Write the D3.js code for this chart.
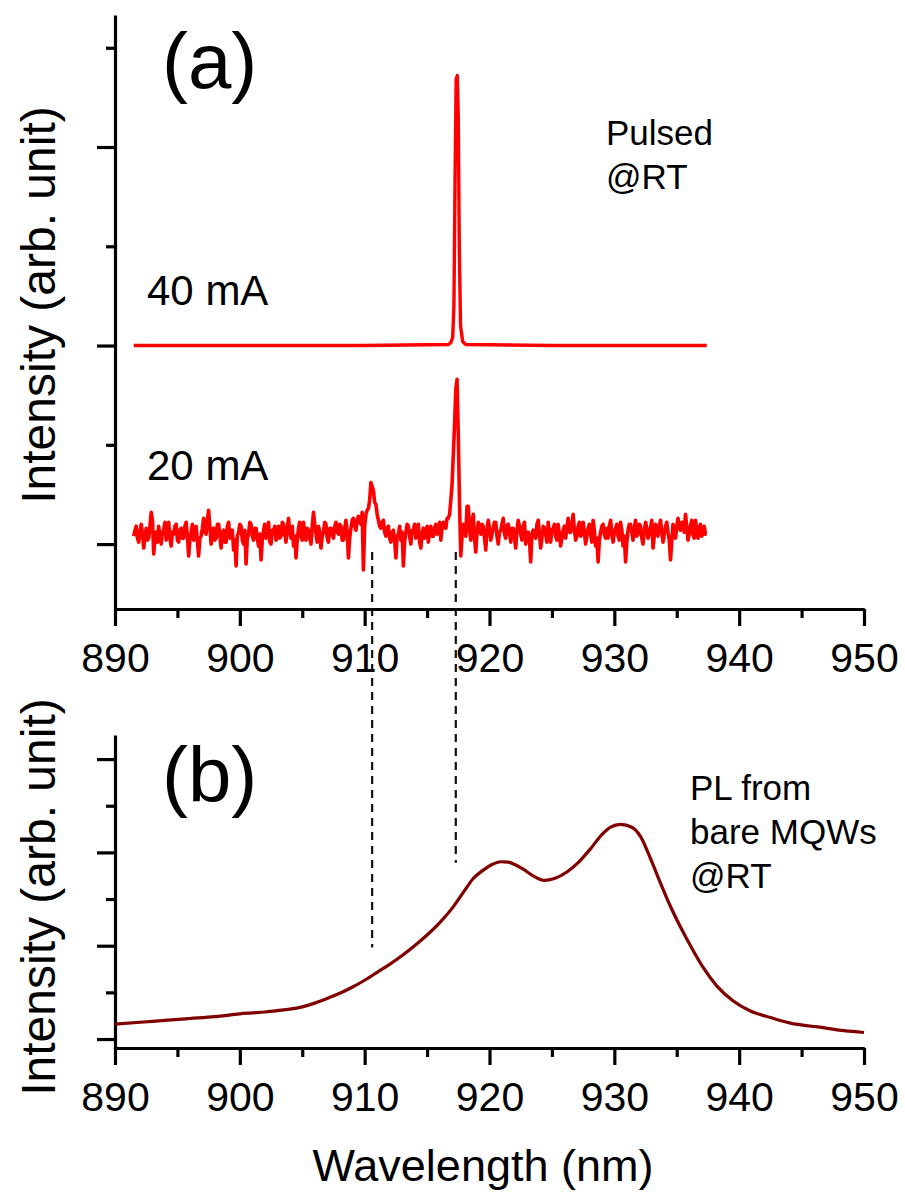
<!DOCTYPE html>
<html>
<head>
<meta charset="utf-8">
<script src="https://cdn.jsdelivr.net/npm/d3@7"></script>
<style>
  body { margin: 0; background: #fff; }
  text { font-family: "Liberation Sans", Arial, sans-serif; fill: #000; }
</style>
</head>
<body>
<svg></svg>
<script>
// panel (a): lasing spectra, intensity in arb. units (baseline of 20 mA = 0, 40 mA offset by 100)
// 20 mA trace sampled every 0.1 nm from 891.5 nm
const wlStart20 = 891.5;
const wlStep20 = 0.1;
const current20mA = [
  4, 7, 9, 3, 1, 6, 10, 5, -2, 4, 8, 2, 3, 9, 16, 12, -5, 3, 6, 1,
  9, 4, 0, 6, 7, 11, 2, 5, 11, 3, -1, 6, 5, 9, 10, 2, 1, 7, 8, 3,
  3, 9, 11, 4, -6, 2, 6, 10, 2, 5, 9, 1, -6, 3, 4, 8, 13, 6, 5, 12,
  17, 9, 0, 5, 8, 2, 3, 10, 10, 4, -2, 6, 7, 1, 1, 9, 11, 3, 4, 7,
  -3, 2, -11, 4, 6, 10, 9, 2, 0, 7, -10, 3, 5, 11, 10, 4, 2, 8, 8, 3,
  -1, 5, -8, 2, 7, 10, 3, 6, 11, 1, 0, 7, 6, 9, 2, 4, 9, 3, 4, 11,
  10, 5, 1, 8, 13, 6, 3, 9, -1, 4, -7, 2, 8, 11, 4, 2, 11, 6, 2, 8,
  7, 3, 0, 9, 16, 10, 5, 1, 9, 6, -2, 4, 6, 11, 10, 3, 1, 8, 8, 5,
  3, 9, 11, 6, 5, 10, 9, 2, 2, 8, 12, 6, -7, 3, 8, 12, 13, 9, 7, 12,
  14, 11, 10, 16, -13, 9, 15, 17, 18, 22, 31, 29, 27, 21, 20, 15, 12, 9, 8, 11,
  12, 6, 4, 8, 9, 3, 1, 6, 7, 2, -7, 4, 5, 9, 2, 6, -11, 1, 6, 10,
  9, 4, 0, 7, 7, 10, 3, 8, 10, 1, -2, 5, 8, 3, 5, 9, 1, 6, 9, 4,
  4, 8, 10, 5, 6, 11, 2, 8, 11, 9, 8, 13, 13, 15, 22, 30, 45, 60, 78, 83,
  55, 20, -6, 4, 10, 8, 4, 19, 19, 7, 2, 12, 15, 3, -4, 6, 11, 8, 5, 10,
  9, 3, -3, 7, 12, 8, 2, 5, 8, 11, 11, 4, 0, 6, 7, 10, 13, 5, 3, 9,
  10, 6, 1, 8, 8, 3, -2, 7, 12, 9, 5, 2, 9, 11, 0, 4, 6, 2, -9, 5,
  7, 4, 3, 10, 12, 5, -2, 3, 9, 8, 5, 1, 11, 6, 1, 7, 8, 10, 4, 2,
  10, 5, -1, 3, 7, 9, 3, 8, 13, 6, 6, 10, 15, 7, 2, 4, 9, 11, 4, 6,
  11, 6, 0, 4, 8, 10, 5, 1, 12, 7, -1, 3, -9, 2, 6, 9, 10, 5, 3, 8,
  3, 9, 12, 5, 1, 6, 8, 10, 4, 2, 11, 7, -1, 4, -9, 1, 7, 10, 10, 6,
  2, 8, 12, 4, 5, 10, 9, 3, 0, 6, 11, 8, 3, 5, 8, 12, -2, 4, 10, 7,
  4, 9, 12, 6, 1, 5, 9, 11, 6, 2, -8, 1, 10, 6, 3, 9, 13, 8, 7, 11,
  11, 6, 15, 9, 2, 5, 9, 12, 5, 3, 12, 8, 3, 7, 10, 4, 6, 9, 5, 5
];
const wl40mA = [891.5, 900, 910, 916.7, 916.9, 917.05, 917.15, 917.25, 917.33, 917.42, 917.5, 917.58, 917.68, 917.85, 918.1, 925, 937.4];
const current40mA = [100, 100, 100, 100.5, 101.5, 104, 120, 190, 234, 236, 215, 150, 110, 102, 100.5, 100, 100];

// panel (b): PL from bare MQWs
const plWavelength = [890, 892, 894, 896, 898, 900, 901, 902, 903, 904, 905, 906, 907, 908, 909, 910, 911, 912, 913, 914, 915, 916, 917, 918, 918.7, 919.5, 920.2, 920.9, 921.5, 922.1, 922.7, 923.6, 924.4, 925.2, 926.2, 927.1, 928.1, 929.0, 929.7, 930.5, 931.4, 932.1, 933.0, 933.7, 934.5, 935.3, 936.1, 937.1, 938.2, 939.5, 940.9, 942.5, 944.1, 946.3, 948.4, 950];
const plIntensity = [0.16, 0.18, 0.20, 0.22, 0.24, 0.27, 0.28, 0.29, 0.305, 0.32, 0.345, 0.385, 0.435, 0.49, 0.555, 0.63, 0.715, 0.80, 0.895, 1.00, 1.115, 1.245, 1.40, 1.59, 1.72, 1.81, 1.87, 1.90, 1.895, 1.865, 1.82, 1.74, 1.70, 1.72, 1.79, 1.89, 2.04, 2.19, 2.27, 2.30, 2.27, 2.17, 1.90, 1.67, 1.42, 1.20, 1.00, 0.77, 0.57, 0.41, 0.30, 0.23, 0.17, 0.13, 0.09, 0.07];

const xTicksMajor = [890, 900, 910, 920, 930, 940, 950];
const xTicksMinor = [895, 905, 915, 925, 935, 945];
const yTicksA = [0, 50, 100, 150, 200, 250];
const yTicksB = [0, 0.5, 1, 1.5, 2, 2.5, 3];
const markerWl = [910.6, 917.3];
const markerEndB = [0.98, 1.89];

const width = 905;
const height = 1196;

const svg = d3.select('svg')
              .attr('width', width)
              .attr('height', height);

const xScale = d3.scaleLinear()
                 .domain([890, 950])
                 .range([115, 864]);

const yScaleA = d3.scaleLinear()
                  .domain([-32.7, 266.5])
                  .range([609, 15]);

const yScaleB = d3.scaleLinear()
                  .domain([-0.096, 3.258])
                  .range([1048, 735]);

function drawAxes(yScale, yTicks, isMajor) {
  const yBottom = yScale.range()[0];

  const xMajor = d3.axisBottom(xScale)
                   .tickValues(xTicksMajor)
                   .tickSize(17)
                   .tickSizeOuter(0)
                   .tickFormat(d3.format('d'));
  const xMinor = d3.axisBottom(xScale)
                   .tickValues(xTicksMinor)
                   .tickSize(9)
                   .tickSizeOuter(0)
                   .tickFormat('');

  svg.append('g')
      .attr('transform', `translate(0, ${yBottom})`)
      .call(xMinor);
  const gx = svg.append('g')
      .attr('transform', `translate(0, ${yBottom})`)
      .call(xMajor);
  gx.selectAll('text')
      .style('font-size', '41px')
      .attr('y', 34)
      .attr('dy', '0.71em');

  const yAll = d3.axisLeft(yScale)
                 .tickValues(yTicks)
                 .tickSizeOuter(0)
                 .tickFormat('');
  const gy = svg.append('g')
      .attr('transform', `translate(115, 0)`)
      .call(yAll);
  gy.selectAll('.tick line')
      .attr('x2', (d) => isMajor(d) ? -18 : -9);

  svg.selectAll('.domain, .tick line')
      .attr('stroke', '#000')
      .attr('stroke-width', 3.2);
}

drawAxes(yScaleA, yTicksA, (d) => d % 100 === 0);
drawAxes(yScaleB, yTicksB, (d) => d % 1 === 0);

// dashed guide lines joining the lasing peaks to the PL spectrum
svg.selectAll('line.marker')
  .data(markerWl)
  .enter()
  .append('line')
    .attr('class', 'marker')
    .attr('x1', (d) => xScale(d))
    .attr('x2', (d) => xScale(d))
    .attr('y1', yScaleA(-4))
    .attr('y2', (d, i) => yScaleB(markerEndB[i]))
    .attr('stroke', '#111')
    .attr('stroke-width', 2.2)
    .attr('stroke-dasharray', '8,6');

const line40 = d3.line()
                 .x((d, i) => xScale(wl40mA[i]))
                 .y((d) => yScaleA(d));

const line20 = d3.line()
                 .x((d, i) => xScale(wlStart20 + wlStep20 * i))
                 .y((d) => yScaleA(d));

const linePL = d3.line()
                 .x((d, i) => xScale(plWavelength[i]))
                 .y((d) => yScaleB(d))
                 .curve(d3.curveMonotoneX);

svg.append('path')
    .attr('d', line20(current20mA))
    .attr('fill', 'none')
    .attr('stroke', '#ff0000')
    .attr('stroke-width', 3.6)
    .attr('stroke-linejoin', 'round');

svg.append('path')
    .attr('d', line40(current40mA))
    .attr('fill', 'none')
    .attr('stroke', '#ff0000')
    .attr('stroke-width', 3.4)
    .attr('stroke-linejoin', 'round');

svg.append('path')
    .attr('d', linePL(plIntensity))
    .attr('fill', 'none')
    .attr('stroke', '#800000')
    .attr('stroke-width', 3.2);

// labels
const addText = (txt, x, y, size) =>
  svg.append('text')
      .text(txt)
      .attr('x', x)
      .attr('y', y)
      .style('font-size', size + 'px');

addText('(a)', 162, 88, 78);
addText('(b)', 162, 802, 78);
addText('40 mA', 147, 305, 42);
addText('20 mA', 147, 480, 42);
addText('Pulsed', 606, 145, 35);
addText('@RT', 606, 189, 35);
addText('PL from', 690, 800, 35);
addText('bare MQWs', 690, 844, 35);
addText('@RT', 690, 888, 35);

svg.append('text')
    .text('Wavelength (nm)')
    .attr('x', 483)
    .attr('y', 1181)
    .style('text-anchor', 'middle')
    .style('font-size', '45px');

[305, 897].forEach((cy) => {
  svg.append('text')
      .text('Intensity (arb. unit)')
      .attr('transform', `translate(55, ${cy}) rotate(-90)`)
      .style('text-anchor', 'middle')
      .style('font-size', '48px');
});
</script>
</body>
</html>
